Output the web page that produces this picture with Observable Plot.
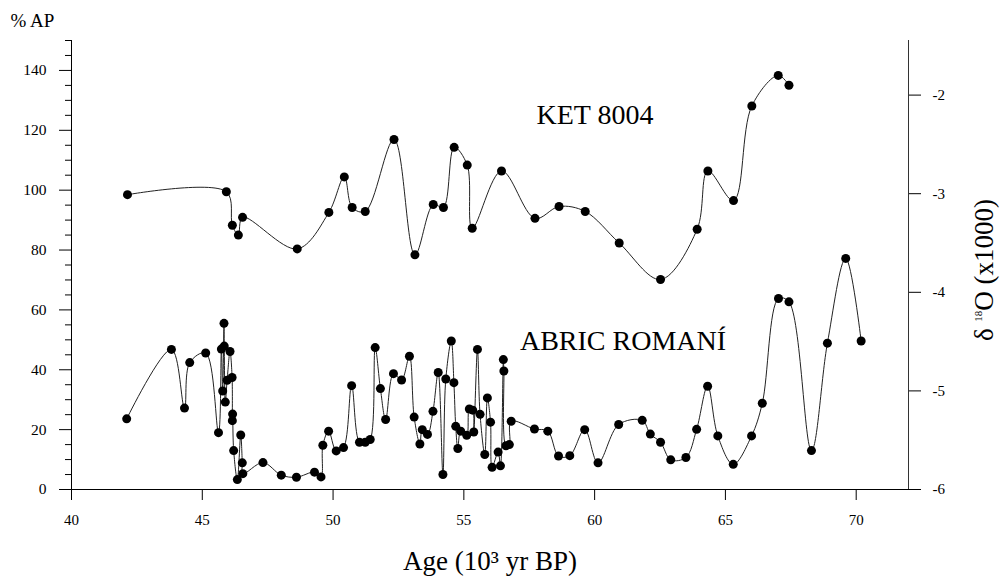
<!DOCTYPE html>
<html><head><meta charset="utf-8">
<script src="https://cdn.jsdelivr.net/npm/d3@7"></script>
<script src="https://cdn.jsdelivr.net/npm/@observablehq/plot@0.6"></script>
<style>html,body{margin:0;padding:0;background:#fff;overflow:hidden} svg{display:block}</style>
</head><body><div id="chart"></div>
<script>
// KET 8004 core: age (10^3 yr BP) and δ18O (x1000)
const ketAge = [42.14,45.92,46.15,46.38,46.54,48.63,49.84,50.43,50.73,51.23,52.33,53.13,53.83,54.22,54.63,55.13,55.32,56.44,57.72,58.64,59.64,60.94,62.52,63.92,64.33,65.31,66.01,67.02,67.43];
const ketDelta = [-3.01,-2.98,-3.32,-3.42,-3.24,-3.56,-3.19,-2.83,-3.14,-3.18,-2.45,-3.62,-3.11,-3.14,-2.53,-2.71,-3.35,-2.77,-3.25,-3.13,-3.18,-3.50,-3.87,-3.36,-2.77,-3.07,-2.11,-1.80,-1.90];

// Abric Romaní: age (10^3 yr BP) and % AP
const abricAge = [42.11,43.82,44.32,44.52,45.13,45.62,45.73,45.78,45.83,45.84,45.88,45.95,46.06,46.14,46.15,46.16,46.20,46.34,46.47,46.53,46.55,47.32,48.02,48.60,49.29,49.54,49.61,49.83,50.12,50.40,50.71,51.01,51.23,51.42,51.61,51.81,52.01,52.31,52.62,52.92,53.10,53.32,53.41,53.61,53.82,54.02,54.20,54.31,54.52,54.62,54.69,54.77,54.88,55.11,55.21,55.34,55.38,55.52,55.62,55.80,55.90,56.02,56.08,56.31,56.40,56.51,56.53,56.61,56.74,56.81,57.70,58.21,58.62,59.05,59.62,60.13,60.92,61.82,62.13,62.52,62.91,63.49,63.90,64.32,64.71,65.30,66.00,66.41,67.03,67.43,68.29,68.90,69.60,70.19];
const abricAP = [23.6,46.8,27.2,42.4,45.6,19.0,46.9,32.9,55.5,47.9,29.2,36.5,46.1,37.4,23.0,25.2,13.0,3.3,18.2,8.9,5.3,9.0,4.8,4.1,5.8,4.2,14.8,19.5,12.9,14.0,34.7,15.8,15.8,16.7,47.4,33.7,23.4,38.7,36.6,44.5,24.2,15.2,20.0,18.4,26.1,39.1,5.0,36.9,49.6,35.7,21.1,13.7,19.5,18.1,26.9,26.5,19.2,46.8,25.1,11.7,30.6,22.5,7.4,12.5,7.9,43.4,39.6,14.6,15.0,22.8,20.2,19.5,11.2,11.3,20.0,8.9,21.7,23.1,18.5,15.8,9.9,10.7,20.1,34.5,17.9,8.4,17.9,28.8,63.8,62.7,13.0,48.9,77.2,49.6];

// Axis ticks
const xTicks = [40,45,50,55,60,65,70];
const apTicks = [0,20,40,60,80,100,120,140];
const apMinorTicks = [5,10,15,25,30,35,45,50,55,65,70,75,85,90,95,105,110,115,125,130,135,145,150];
const deltaTicks = [-6,-5,-4,-3,-2];

// δ18O axis sits on the same frame: -6 at 0 %AP, -2 at ~131.75 %AP
const perDelta = 32.94;
const deltaToAP = d => (d + 6) * perDelta;
const apToDelta = v => v / perDelta - 6;

const ket = ketAge.map((a, i) => ({age: a, delta: ketDelta[i]}));
const abric = abricAge.map((a, i) => ({age: a, ap: abricAP[i]}));

const font = "Liberation Serif, Times New Roman, Times, serif";

const chart = Plot.plot({
  width: 1004, height: 578,
  marginLeft: 71, marginRight: 96, marginTop: 40, marginBottom: 89,
  style: {fontFamily: font, fontSize: "15px", color: "#000", background: "#fff", overflow: "visible"},
  x: {domain: [40, 72]},
  y: {domain: [0, 150]},
  marks: [
    Plot.ruleX([40], {stroke: "#000"}),
    Plot.ruleX([72], {stroke: "#333"}),
    Plot.ruleY([0], {stroke: "#000", insetLeft: -11, insetRight: -11}),
    Plot.axisX(xTicks, {tickSize: 11, tickPadding: 14, label: null, fontSize: 15, fontFamily: font, tickFormat: d => String(d)}),
    Plot.axisY(apTicks, {tickSize: 12, tickPadding: 13, label: null, fontSize: 15.5, fontFamily: font, tickFormat: d => String(d)}),
    Plot.axisY(apMinorTicks, {tickSize: 6, label: null, tickFormat: () => ""}),
    Plot.axisY(deltaTicks.map(deltaToAP), {anchor: "right", tickSize: 12, tickPadding: 12, label: null, fontSize: 15, fontFamily: font,
      tickFormat: v => String(Math.round(apToDelta(v)))}),
    Plot.line(abric, {x: "age", y: "ap", curve: "catmull-rom", stroke: "#222", strokeWidth: 1}),
    Plot.dot(abric, {x: "age", y: "ap", r: 4.5, fill: "#000", stroke: "none"}),
    Plot.line(ket, {x: "age", y: d => deltaToAP(d.delta), curve: "catmull-rom", stroke: "#222", strokeWidth: 1}),
    Plot.dot(ket, {x: "age", y: d => deltaToAP(d.delta), r: 4.5, fill: "#000", stroke: "none"}),
    Plot.text(["% AP"], {frameAnchor: "top-left", textAnchor: "start", lineAnchor: "middle", dx: -61, dy: -20, fontSize: 19, fontFamily: font}),
    Plot.text(["Age (10³ yr BP)"], {frameAnchor: "bottom", textAnchor: "middle", lineAnchor: "middle", dx: 0, dy: 72, fontSize: 27, fontFamily: font}),
    Plot.text(["KET 8004"], {frameAnchor: "middle", textAnchor: "middle", lineAnchor: "middle", dx: 105, dy: -150, fontSize: 28, fontFamily: font}),
    Plot.text(["ABRIC ROMANÍ"], {frameAnchor: "middle", textAnchor: "middle", lineAnchor: "middle", dx: 133, dy: 76, fontSize: 28, fontFamily: font}),
    Plot.text(["δ 18O (x1000)"], {frameAnchor: "right", textAnchor: "middle", lineAnchor: "middle", rotate: -90, dx: 76, dy: 5, fontSize: 27, fontFamily: font})
  ]
});

// Render the "18" of δ18O as a small superscript
d3.select(chart).selectAll("text")
  .filter(function() { return this.textContent === "δ 18O (x1000)"; })
  .each(function() {
    const t = d3.select(this);
    t.text(null);
    t.append("tspan").text("δ ");
    t.append("tspan").attr("font-size", "11px").attr("dy", "-11").text("18");
    t.append("tspan").attr("dy", "11").text("O (x1000)");
  });

document.getElementById("chart").appendChild(chart);
</script>
</body></html>
